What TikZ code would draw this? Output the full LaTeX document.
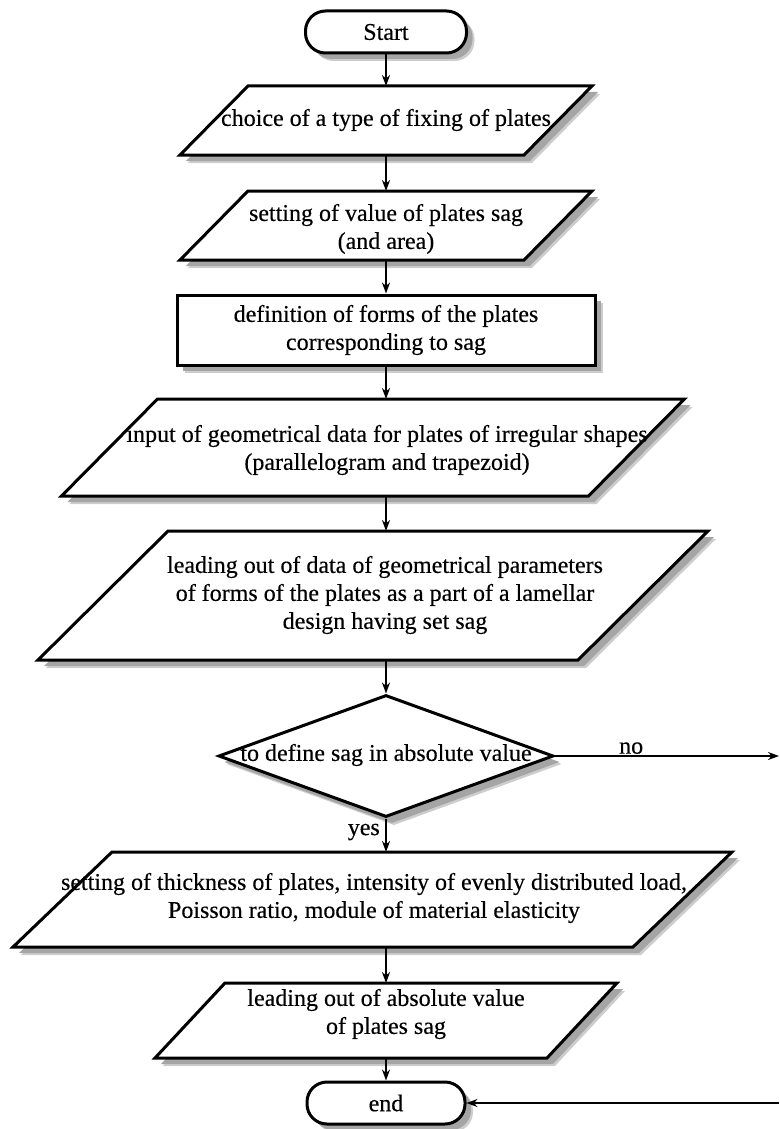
\documentclass[tikz,border=0pt]{standalone}
\usepackage{fontspec}
\setmainfont{Liberation Serif}[FakeBold=0.35]
\usetikzlibrary{shapes.geometric,arrows.meta}
\newcommand\ioshape[6]{% name, cx, cy, mid width, height, half slant
  \foreach \o/\c in {8/shadowb,6/shadowc}{
  \fill[\c] ({#2-#4/2+#6+\o},{#3-#5/2+\o}) -- ({#2+#4/2+#6+\o},{#3-#5/2+\o})
     -- ({#2+#4/2-#6+\o},{#3+#5/2+\o}) -- ({#2-#4/2-#6+\o},{#3+#5/2+\o}) -- cycle;}
  \path[outline] ({#2-#4/2+#6},{#3-#5/2}) -- ({#2+#4/2+#6},{#3-#5/2})
     -- ({#2+#4/2-#6},{#3+#5/2}) -- ({#2-#4/2-#6},{#3+#5/2}) -- cycle;
  \node[holder,minimum width=#4pt,minimum height=#5pt] (#1) at (#2,#3) {};
}
\begin{document}
\begin{tikzpicture}[x=1pt,y=-1pt,
  font=\fontsize{24}{28}\selectfont,
  shadowc/.style={fill={rgb,255:red,165;green,165;blue,165}},
  shadowb/.style={fill={rgb,255:red,205;green,205;blue,205}},
  outline/.style={draw=black,line width=3pt,fill=white,line join=miter},
  term/.style={outline,rectangle,rounded corners=20pt,minimum width=#1,minimum height=42pt,inner sep=0pt},
  proc/.style={outline,rectangle,minimum width=418pt,minimum height=70pt,inner sep=0pt,align=center},
  holder/.style={draw=none,rectangle,inner sep=0pt,outer sep=0pt},
  txt/.style={inner sep=0pt,align=center},
  conn/.style={draw=black,line width=2.2pt,-{Stealth[length=11pt,width=8pt]}},
  lbl/.style={inner sep=1pt}]
\useasboundingbox (0,0) rectangle (779,1129);

% shadows of node shapes
\foreach \o/\c in {8/shadowb,6/shadowc}{
  \fill[\c,rounded corners=20pt] (305.5+\o,11+\o) rectangle (466.5+\o,53+\o);
  \fill[\c] (177+\o,295+\o) rectangle (595+\o,365+\o);
  \fill[\c] (386+\o,695+\o) -- (553.5+\o,756+\o) -- (386+\o,817+\o) -- (218.5+\o,756+\o) -- cycle;
  \fill[\c,rounded corners=20pt] (307+\o,1082+\o) rectangle (465+\o,1124+\o);
}

% input/output parallelograms
\ioshape{p1}{386}{120.5}{344}{69}{34}
\ioshape{p2}{386}{225.5}{344}{69}{34}
\ioshape{p3}{373}{447.5}{527}{97}{48}
\ioshape{p4}{373}{595.5}{540}{129}{65}
\ioshape{p5}{372.5}{899.5}{620}{95}{49.5}
\ioshape{p6}{386}{1020.5}{392}{75}{35}

\node[term=161pt] (start) at (386,32) {Start};
\node[proc] (def) at (386,330) {definition of forms of the plates\\corresponding to sag};
\node[diamond,outline,minimum width=335pt,minimum height=122pt,inner sep=0pt] (dec) at (386,756) {};
\node[term=158pt] (end) at (386,1103) {end};

% texts
\node[txt] (t1) at (386,120) {choice of a type of fixing of plates};
\node[txt] (t2) at (386,229) {setting of value of plates sag\\(and area)};
\node[txt] (t3) at (387,450) {input of geometrical data for plates of irregular shapes\\(parallelogram and trapezoid)};
\node[txt] (t4) at (385,595) {leading out of data of geometrical parameters\\of forms of the plates as a part of a lamellar\\design having set sag};
\node[txt] (td) at (386,755) {to define sag in absolute value};
\node[txt] (t5) at (374,898) {setting of thickness of plates, intensity of evenly distributed load,\\Poisson ratio, module of material elasticity};
\node[txt] (t6) at (386,1014) {leading out of absolute value\\of plates sag};

% connectors
\draw[conn] (start.south) -- (p1.north);
\draw[conn] (p1.south) -- (p2.north);
\draw[conn] (p2.south) -- (def.north);
\draw[conn] (def.south) -- (def.south |- p3.north);
\draw[conn] (def.south |- p3.south) -- (def.south |- p4.north);
\draw[conn] (def.south |- p4.south) -- (dec.north);
\draw[conn] (dec.south) -- (dec.south |- p5.north);
\draw[conn] (dec.south |- p5.south) -- (p6.north);
\draw[conn] (p6.south) -- (end.north);

\coordinate (noend) at (779,756);
\coordinate (backin) at (779,1103);
\draw[conn] (dec.east) -- node[lbl,above,pos=0.34] (nolbl) {no} (noend);
\draw[conn] (backin) -- (end.east);
\node[lbl,anchor=east] (yeslbl) at (381,832) {yes};
\end{tikzpicture}
\end{document}
